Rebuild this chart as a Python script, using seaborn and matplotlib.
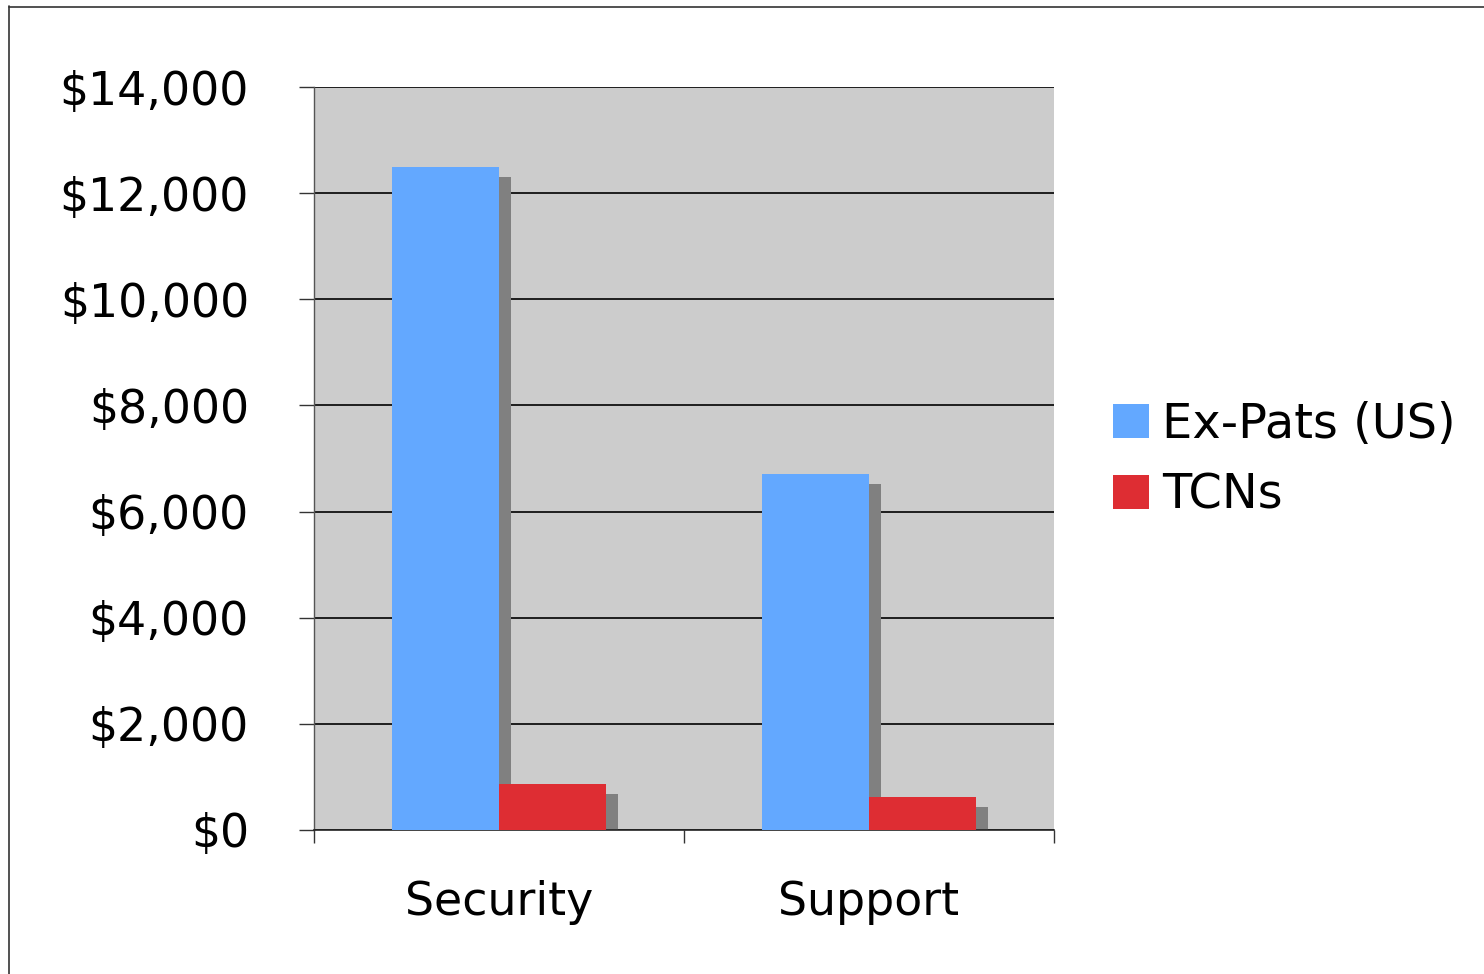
import matplotlib
matplotlib.use("Agg")
import matplotlib.pyplot as plt
import seaborn as sns
import pandas as pd
from matplotlib.patches import Rectangle, Patch
from matplotlib.transforms import ScaledTranslation
from matplotlib.lines import Line2D

categories = ["Security", "Support"]
series = ["Ex-Pats (US)", "TCNs"]
expats = [12500, 6700]
tcns = [860, 620]
yticks = [0, 2000, 4000, 6000, 8000, 10000, 12000, 14000]
colors = ["#63A8FF", "#DE2D33"]

rows = []
for c, v in zip(categories, expats):
    rows.append({"category": c, "group": series[0], "value": v})
for c, v in zip(categories, tcns):
    rows.append({"category": c, "group": series[1], "value": v})
df = pd.DataFrame(rows)

sns.set_style("white")
plt.rcParams["font.family"] = ["DejaVu Sans"]
plt.rcParams["text.color"] = "black"
plt.rcParams["xtick.color"] = "black"
plt.rcParams["ytick.color"] = "black"

fig = plt.figure(figsize=(14.84, 9.74), dpi=100)
ax = fig.add_axes([314/1484, 1-830/974, 740/1484, 743/974])
ax.set_facecolor("#CCCCCC")

sns.barplot(data=df, x="category", y="value", hue="group", order=categories,
            hue_order=series, palette=colors, width=0.578, gap=0,
            saturation=1, linewidth=0, ax=ax, zorder=3, legend=False)

# drop shadows
off = ScaledTranslation(12/100, -10/100, fig.dpi_scale_trans)
for p in list(ax.patches):
    r = Rectangle(p.get_xy(), p.get_width(), p.get_height(),
                  transform=ax.transData + off, facecolor="#808080",
                  linewidth=0, zorder=2)
    ax.add_patch(r)

ax.set_xlim(-0.5, 1.5)
ax.set_ylim(0, 14000)
ax.set_yticks(yticks)
ax.set_yticklabels([f"${v:,}" for v in yticks], fontsize=33, color="black")
ax.yaxis.grid(True, color="black", linewidth=1.2, zorder=1)
ax.set_axisbelow(True)

ax.set_xticks([-0.5, 0.5, 1.5])
ax.set_xticklabels([])
ax.set_xticks([0, 1], minor=True)
ax.set_xticklabels(categories, minor=True, fontsize=33, color="black")
ax.tick_params(axis="x", which="major", bottom=True, length=9.4, width=1,
               color="#333333", direction="out")
ax.tick_params(axis="x", which="minor", bottom=True, length=0, pad=36)
ax.tick_params(axis="y", left=True, length=10.8, width=1, color="#333333",
               direction="out", pad=36)
ax.set_xlabel("")
ax.set_ylabel("")

for s in ["top", "right"]:
    ax.spines[s].set_visible(False)
ax.spines["left"].set_color("#555555")
ax.spines["bottom"].set_color("#222222")
ax.spines["left"].set_linewidth(1)
ax.spines["bottom"].set_linewidth(1.2)

handles = [Patch(facecolor=c, edgecolor="none") for c in colors]
leg = fig.legend(handles, series, loc="upper left",
                 bbox_to_anchor=(1113/1484, 1-401/974), frameon=False,
                 fontsize=34.5, handlelength=0.75, handleheight=0.72,
                 handletextpad=0.28, labelspacing=0.5, borderpad=0, borderaxespad=0)
for t in leg.get_texts():
    t.set_color("black")

# outer frame
fig.add_artist(Line2D([8.5/1484, 8.5/1484], [0, 1-6/974], transform=fig.transFigure,
                      color="#333333", linewidth=1.2))
fig.add_artist(Line2D([8.5/1484, 1], [1-6.5/974, 1-6.5/974], transform=fig.transFigure,
                      color="#333333", linewidth=1.2))

fig.savefig("out.png", dpi=100)
